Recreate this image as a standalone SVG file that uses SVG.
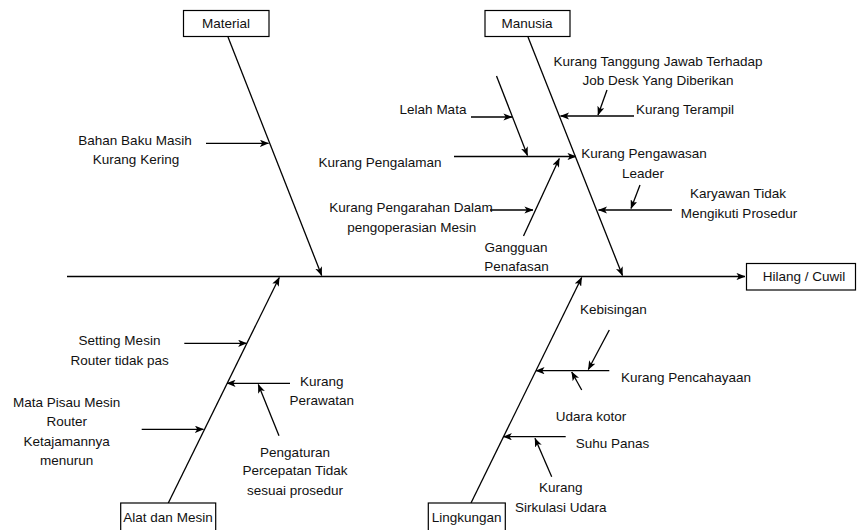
<svg xmlns="http://www.w3.org/2000/svg" width="857" height="530" viewBox="0 0 857 530">
<style>
text{font-family:"Liberation Sans",Arial,sans-serif;font-size:13.5px;fill:#111;text-anchor:middle}
.box{fill:#fff;stroke:#000;stroke-width:1.2}
.ln{fill:none;stroke:#000;stroke-width:1.3;marker-end:url(#ah)}
.pl{fill:none;stroke:#000;stroke-width:1.3}
</style>
<defs>
<marker id="ah" viewBox="0 0 10 8" refX="9.5" refY="4" markerWidth="9" markerHeight="7.2" markerUnits="userSpaceOnUse" orient="auto">
<path d="M0,0 L10,4 L0,8 L2.5,4 z" fill="#000"/>
</marker>
</defs>
<rect width="857" height="530" fill="#fff"/>
<g id="connectors">
<line class="ln" x1="67" y1="276.5" x2="745" y2="276.5"/>
<line class="ln" x1="228" y1="37" x2="321.7" y2="275.5"/>
<line class="ln" x1="528" y1="37" x2="622.5" y2="275.5"/>
<line class="ln" x1="168.3" y1="503" x2="279.3" y2="277.5"/>
<line class="ln" x1="471" y1="503" x2="581.7" y2="277.5"/>
<line class="ln" x1="206" y1="143.3" x2="268.5" y2="143.3"/>
<line class="ln" x1="471" y1="117" x2="512" y2="117"/>
<line class="ln" x1="496.5" y1="76" x2="527.5" y2="155.5"/>
<line class="ln" x1="454" y1="156.5" x2="576" y2="156.5"/>
<line class="ln" x1="490" y1="210" x2="533" y2="210"/>
<line class="ln" x1="523.5" y1="236" x2="559.3" y2="158.5"/>
<line class="ln" x1="634" y1="116" x2="560.5" y2="116"/>
<line class="ln" x1="607" y1="90" x2="598" y2="115"/>
<line class="ln" x1="672" y1="210" x2="598.5" y2="210"/>
<line class="ln" x1="640" y1="185" x2="631" y2="208.5"/>
<line class="ln" x1="184.3" y1="343.3" x2="246.7" y2="343.3"/>
<line class="ln" x1="290" y1="383.3" x2="227" y2="383.3"/>
<line class="ln" x1="279" y1="435.7" x2="258.3" y2="384.5"/>
<line class="ln" x1="141.7" y1="429.3" x2="203.5" y2="429.3"/>
<line class="ln" x1="609.3" y1="330" x2="588.3" y2="369.5"/>
<line class="ln" x1="609.3" y1="370.7" x2="536" y2="370.7"/>
<line class="ln" x1="581.7" y1="390" x2="571.7" y2="372"/>
<line class="ln" x1="565.7" y1="436.7" x2="503.3" y2="436.7"/>
<line class="ln" x1="551.7" y1="476.7" x2="535" y2="438.3"/>
</g>
<g id="node-hilang"><rect class="box" x="746.5" y="263.5" width="109" height="26.5"/><text x="804" y="281">Hilang / Cuwil</text></g>
<g id="node-material"><rect class="box" x="183.5" y="10.5" width="85.5" height="26"/><text x="226" y="28">Material</text></g>
<g id="node-manusia"><rect class="box" x="485" y="10.5" width="85" height="26"/><text x="527" y="28">Manusia</text></g>
<g id="node-alat"><rect class="box" x="120.7" y="503" width="95" height="32"/><text x="168" y="521.5">Alat dan Mesin</text></g>
<g id="node-lingkungan"><rect class="box" x="428.3" y="503" width="77" height="32"/><text x="466.7" y="521.5">Lingkungan</text></g>
<g id="cause-bahan"><text x="135" y="145">Bahan Baku Masih</text><text x="136" y="164.3">Kurang Kering</text></g>
<g id="cause-lelah"><text x="433" y="114.3">Lelah Mata</text></g>
<g id="cause-pengalaman"><text x="380" y="166.5">Kurang Pengalaman</text></g>
<g id="cause-pengarahan"><text x="411" y="211.5">Kurang Pengarahan Dalam</text><text x="411.7" y="231.5">pengoperasian Mesin</text></g>
<g id="cause-gangguan"><text x="516" y="251.5">Gangguan</text><text x="516.5" y="271">Penafasan</text></g>
<g id="cause-tanggung"><text x="658" y="66">Kurang Tanggung Jawab Terhadap</text><text x="658" y="85">Job Desk Yang Diberikan</text></g>
<g id="cause-terampil"><text x="636" y="114" style="text-anchor:start">Kurang Terampil</text></g>
<g id="cause-pengawasan"><text x="644" y="158">Kurang Pengawasan</text><text x="643" y="178">Leader</text></g>
<g id="cause-karyawan"><text x="738" y="198">Karyawan Tidak</text><text x="739" y="218">Mengikuti Prosedur</text></g>
<g id="cause-setting"><text x="119.5" y="345">Setting Mesin</text><text x="119.7" y="365">Router tidak pas</text></g>
<g id="cause-perawatan"><text x="321.7" y="385.7">Kurang</text><text x="321.7" y="405">Perawatan</text></g>
<g id="cause-pisau"><text x="66.7" y="406.7">Mata Pisau Mesin</text><text x="66.7" y="426">Router</text><text x="66.7" y="445.7">Ketajamannya</text><text x="66.7" y="465">menurun</text></g>
<g id="cause-pengaturan"><text x="295" y="456.7">Pengaturan</text><text x="295" y="475">Percepatan Tidak</text><text x="295" y="495">sesuai prosedur</text></g>
<g id="cause-kebisingan"><text x="613.3" y="314.3">Kebisingan</text></g>
<g id="cause-pencahayaan"><text x="686" y="381.7">Kurang Pencahayaan</text></g>
<g id="cause-udara"><text x="591" y="421">Udara kotor</text></g>
<g id="cause-suhu"><text x="612.5" y="447.7">Suhu Panas</text></g>
<g id="cause-sirkulasi"><text x="560.7" y="492.3">Kurang</text><text x="560.7" y="511.7">Sirkulasi Udara</text></g>
</svg>
